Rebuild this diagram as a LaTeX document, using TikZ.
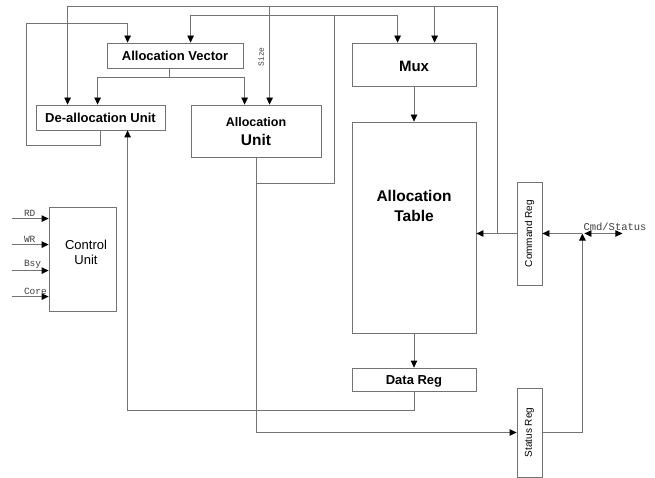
\documentclass[tikz,border=0pt]{standalone}
\usepackage{fontspec}
\setmainfont{Liberation Sans}
\setmonofont{Liberation Mono}
\usetikzlibrary{arrows.meta}

\begin{document}
\begin{tikzpicture}[x=1pt,y=-1pt]
\tikzstyle{every node}+=[inner sep=0pt]
\tikzstyle{wire}=[draw=black!55,line width=0.8pt]
\tikzstyle{arr}=[wire,-{Triangle[length=7pt,width=6.5pt,color=black]}]
\tikzstyle{dbl}=[wire,{Triangle[length=7pt,width=6.5pt,color=black]}-{Triangle[length=7pt,width=6.5pt,color=black]}]
\tikzstyle{blk}=[draw=black!55,line width=0.8pt,align=center,text depth=0pt,font=\fontsize{13}{15}\selectfont\bfseries]
\tikzstyle{sig}=[text=black!75,font=\fontsize{9.5}{10}\selectfont\ttfamily]
\useasboundingbox (0,0) rectangle (655,478);
\node[blk,minimum width=136,minimum height=25] (avec) at (175,55.5) {Allocation Vector};
\node[blk,minimum width=129,minimum height=25] (dealloc) at (100.5,117.5) {De-allocation Unit};
\node[blk,minimum width=130,minimum height=52,font=\fontsize{12.5}{19}\selectfont\bfseries] (allocu) at (256,131) {Allocation\\{\fontsize{15.5}{19}\selectfont Unit}};
\node[blk,minimum width=124,minimum height=43,font=\fontsize{15}{18}\selectfont\bfseries] (mux) at (414,64.5) {\raisebox{-3pt}{Mux}};
\node[blk,minimum width=124,minimum height=211] (atable) at (414,227.5) {};
\node[align=center,anchor=north,font=\fontsize{15.5}{20}\selectfont\bfseries] (attext) at ([yshift=-68]atable.north) {Allocation\\Table};
\node[blk,minimum width=124,minimum height=23] (dreg) at (414,379.5) {\raisebox{-2pt}{Data Reg}};
\node[blk,minimum width=25,minimum height=103,font=\fontsize{10}{12}\selectfont] (creg) at (529.5,233.5) {\rotatebox{90}{Command Reg}};
\node[blk,minimum width=25,minimum height=89,font=\fontsize{10}{12}\selectfont] (sreg) at (529.5,432.5) {\rotatebox{90}{Status Reg}};
\node[blk,minimum width=67,minimum height=104] (ctrl) at (82.5,259) {};
\node[align=center,font=\fontsize{13}{15}\selectfont] (ctrltext) at (86,252) {Control\\Unit};
\coordinate (xa) at (497,6);
\coordinate (xb) at (334,15);
\coordinate (yb) at (0,183);
\coordinate (xl) at (26,23);
\coordinate (d1) at ([xshift=32]dealloc.north west);
\coordinate (d2) at ([xshift=62]dealloc.north west);
\coordinate (d3) at ([xshift=92]dealloc.south west);
\coordinate (v1) at ([xshift=21]avec.north west);
\coordinate (v2) at ([xshift=84]avec.north west);
\coordinate (u1) at ([xshift=54]allocu.north west);
\coordinate (u2) at ([xshift=79]allocu.north west);
\coordinate (m1) at ([xshift=46]mux.north west);
\coordinate (m2) at ([xshift=83]mux.north west);
\coordinate (va) at ([xshift=-6]avec.south);
\coordinate (vj) at ([yshift=-9]va);
\coordinate (cs) at ([xshift=40]creg.east);
\draw[arr] (creg.west) -- (creg.west -| atable.east);
\draw[wire] (creg.west -| xa) -- (xa);
\draw[arr] (xa) -| (d1);
\draw[arr] (u2 |- xa) -- (u2);
\draw[arr] (m2 |- xa) -- (m2);
\node[sig,font=\fontsize{8}{9}\selectfont\ttfamily] (sizelbl) at (261,57) {\rotatebox{90}{Size}};
\draw[wire] (allocu.south) |- (xb |- yb) -- (xb);
\draw[arr] (xb) -| (v2);
\draw[arr] (xb) -| (m1);
\draw[arr] (allocu.south) |- (sreg.west);
\draw[wire] (va) -- (vj);
\draw[arr] (vj) -| (d2);
\draw[arr] (vj) -| (u1);
\draw[arr] (dealloc.south) -- ++(0,15) -| (xl) -| (v1);
\draw[arr] (dreg.south) -- ++(0,19) -| (d3);
\draw[arr] (mux) -- (atable);
\draw[arr] (atable) -- (dreg);
\draw[arr] (cs) -- (creg.east);
\draw[arr] (sreg.east) -| (cs);
\draw[dbl] ([xshift=2]cs) -- ([xshift=40]cs);
\node[sig,font=\fontsize{10.5}{11}\selectfont\ttfamily] (cmdlbl) at (615,227) {Cmd/Status};
\foreach \sig/\dy in {RD/12,WR/38,Bsy/64,Core/90}
  \draw[arr] ([xshift=-37,yshift=-\dy]ctrl.north west) node[sig,anchor=south west,xshift=12,yshift=1.5] (in\sig) {\sig} -- ([yshift=-\dy]ctrl.north west);
\end{tikzpicture}
\end{document}
